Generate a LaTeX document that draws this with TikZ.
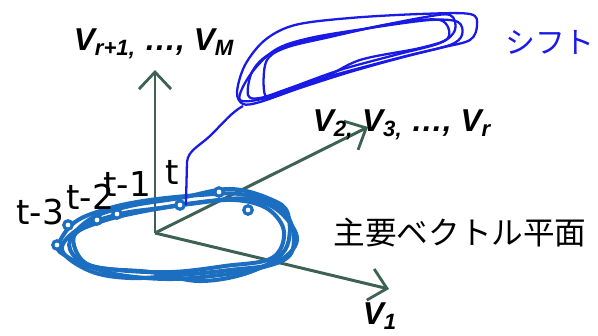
\documentclass[tikz,border=0pt]{standalone}
\usepackage{fontspec}
\setmainfont{Liberation Sans}
\newfontfamily\jpfont{Noto Sans CJK JP}
\newfontfamily\tfont{DejaVu Sans}
\usepackage{xcolor}
\usepackage{tikz}
\usetikzlibrary{arrows.meta,positioning,calc}
\definecolor{ShiftAxis}{HTML}{3D6252}
\definecolor{ShiftLoop}{HTML}{1C6FC0}
\definecolor{ShiftBlue}{HTML}{1A1AE6}
\newcommand{\vlab}[2]{\textbf{\textit{V\textsubscript{#1}#2}}}

\begin{document}
\begin{tikzpicture}[
  x=0.02cm, y=-0.02cm,
  every node/.style={font=\fontsize{18}{20}\selectfont, inner sep=0pt},
  axis/.style={-{Straight Barb[length=3.4mm,width=6.4mm,line width=1.6pt]}, line width=1.7pt, color=ShiftAxis},
  lowloop/.style={ShiftLoop, line width=2.3pt, line join=round},
  highloop/.style={ShiftBlue, line width=1.3pt, line join=round},
  dot/.style={circle, draw=ShiftLoop, line width=1.8pt, fill=white, minimum size=0.17cm},
  tlab/.style={font=\tfont\fontsize{19.5}{22}\selectfont}
]
\useasboundingbox (0,0) rectangle (598,335);

% axes
\coordinate (O) at (155,233);
\coordinate (vm) at (155,70);
\coordinate (vr) at (368,127);
\coordinate (v1) at (389,289);
\draw[axis] (O) -- (vm);
\draw[axis] (O) -- (vr);
\draw[axis] (O) -- (v1);

% principal plane trajectory
\draw[lowloop] plot[smooth cycle, tension=0.6] coordinates {(58,246) (75,222) (110,208) (150,200) (200,195) (240,194) (275,204) (292,226) (290,255) (260,268) (220,275) (170,279) (120,275) (85,265) (66,256)};
\draw[lowloop] plot[smooth cycle, tension=0.6] coordinates {(70,240) (92,218) (130,206) (180,198) (230,189) (270,199) (288,214) (285,250) (250,272) (200,281) (150,272) (100,268) (76,258)};
\draw[lowloop] plot[smooth cycle, tension=0.6] coordinates {(62,250) (80,228) (120,214) (160,208) (210,201) (250,199) (280,212) (297,240) (275,263) (230,270) (180,275) (130,278) (90,271)};
\draw[lowloop] plot[smooth cycle, tension=0.6] coordinates {(74,236) (100,222) (140,212) (190,204) (235,200) (268,209) (284,232) (272,258) (225,266) (172,272) (118,270) (84,262)};

\node[dot] (p3) at (57,245) {};
\node[dot] (p3b) at (68,225) {};
\node[dot] (p2) at (97,220) {};
\node[dot] (p1) at (117,214) {};
\node[dot] (p0) at (180,205) {};
\node[dot] (pa) at (219,192) {};
\node[dot] (pb) at (248,210) {};

% shifted trajectory
\coordinate (s0) at (243,106);
\draw[ShiftBlue, line width=1.3pt] (p0.east) -- (186,202) -- (187,162) .. controls (188,150) and (200,146) .. (212,134) .. controls (224,122) and (232,112) .. (s0);
\draw[highloop] plot[smooth cycle, tension=0.55] coordinates {(237,92) (245,65) (265,40) (295,25) (350,18) (420,14) (470,14) (477,25) (470,40) (440,48) (400,58) (350,72) (300,88) (260,102) (243,104)};
\draw[highloop] plot[smooth cycle, tension=0.55] coordinates {(240,100) (250,75) (275,50) (310,38) (370,28) (430,20) (458,22) (462,35) (450,45) (410,55) (360,68) (310,82) (270,97)};
\draw[highloop] plot[smooth cycle, tension=0.55] coordinates {(248,95) (252,72) (268,55) (300,42) (350,32) (420,18) (450,15) (455,30) (440,43) (395,55) (340,70) (290,88) (260,98)};
\draw[highloop] plot[smooth cycle, tension=0.55] coordinates {(265,95) (266,62) (285,48) (330,37) (390,24) (440,20) (448,38) (420,48) (360,60) (320,80) (280,93)};

% labels
\node (lvm) at (154,44) {\vlab{r+1,}{ \ldots, }\textbf{\textit{V\textsubscript{M}}}};
\node (lvr) at (402,125) {\vlab{2,}{ }\vlab{3,}{ \ldots, }\textbf{\textit{V\textsubscript{r}}}};
\node (lv1) at (380,316) {\vlab{1}{}};
\node[text=ShiftBlue, font=\fontsize{17}{20}\selectfont] (shift) at (550,42) {\jpfont シフト};
\node (plane) at (460,233) {\jpfont 主要ベクトル平面};
\node[tlab] (t3) at (40,212) {t-3};
\node[tlab] (t2) at (90,197) {t-2};
\node[tlab] (t1) at (127,184) {t-1};
\node[tlab] (t0) at (172,172) {t};
\end{tikzpicture}
\end{document}
